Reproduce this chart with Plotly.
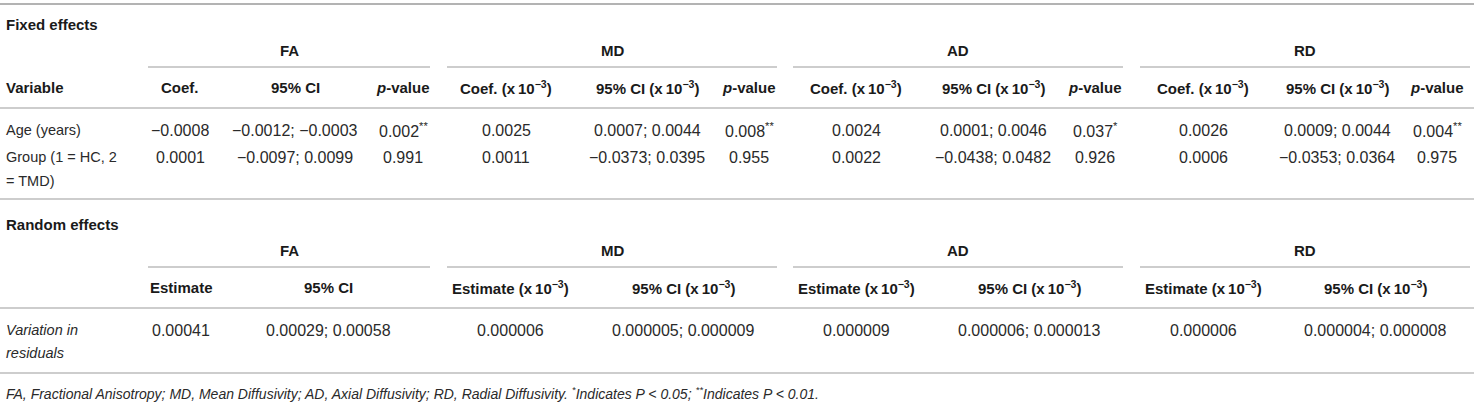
import plotly.graph_objects as go

# table content
groups = ["FA", "MD", "AD", "RD"]
fixed_heads = [
    ["Coef.", "95% CI", "<i>p</i>-value"],
    ["Coef. (x\u200910<sup>−3</sup>)", "95% CI (x\u200910<sup>−3</sup>)", "<i>p</i>-value"],
    ["Coef. (x\u200910<sup>−3</sup>)", "95% CI (x\u200910<sup>−3</sup>)", "<i>p</i>-value"],
    ["Coef. (x\u200910<sup>−3</sup>)", "95% CI (x\u200910<sup>−3</sup>)", "<i>p</i>-value"],
]
random_heads = [
    ["Estimate", "95% CI"],
    ["Estimate (x\u200910<sup>−3</sup>)", "95% CI (x\u200910<sup>−3</sup>)"],
    ["Estimate (x\u200910<sup>−3</sup>)", "95% CI (x\u200910<sup>−3</sup>)"],
    ["Estimate (x\u200910<sup>−3</sup>)", "95% CI (x\u200910<sup>−3</sup>)"],
]
fixed_vars = ["Age (years)", "Group (1 = HC, 2\n= TMD)"]
fa_fixed = [["−0.0008", "−0.0012; −0.0003", "0.002<sup>**</sup>"],
            ["0.0001", "−0.0097; 0.0099", "0.991"]]
md_fixed = [["0.0025", "0.0007; 0.0044", "0.008<sup>**</sup>"],
            ["0.0011", "−0.0373; 0.0395", "0.955"]]
ad_fixed = [["0.0024", "0.0001; 0.0046", "0.037<sup>*</sup>"],
            ["0.0022", "−0.0438; 0.0482", "0.926"]]
rd_fixed = [["0.0026", "0.0009; 0.0044", "0.004<sup>**</sup>"],
            ["0.0006", "−0.0353; 0.0364", "0.975"]]
random_vars = ["Variation in\nresiduals"]
random_est = ["0.00041", "0.000006", "0.000009", "0.000006"]
random_ci = ["0.00029; 0.00058", "0.000005; 0.000009", "0.000006; 0.000013", "0.000004; 0.000008"]
footnote = ("FA, Fractional Anisotropy; MD, Mean Diffusivity; AD, Axial Diffusivity; "
            "RD, Radial Diffusivity. <sup>*</sup>Indicates P &lt; 0.05; <sup>**</sup>Indicates P &lt; 0.01.")

W, H = 1474, 404
FONT = "Liberation Sans, Arial, sans-serif"
TXT = "#2a2a2a"
HEAD = "#1a1a1a"
LINE = "#bdbdbd"

# layout positions (px)
group_span = [(148, 430), (447, 777), (793, 1123), (1140, 1470)]
fixed_x = [[180, 295, 403], [506, 647, 749], [856, 993, 1095], [1203, 1337, 1437]]
random_x = [[181, 328], [510, 683], [856, 1029], [1203, 1375]]

fig = go.Figure()
anns = []
shapes = []


def txt(x, y, s, bold=False, italic=False, anchor="center", size=16, color=TXT):
    font = dict(family=FONT, size=size, color=color)
    if bold:
        font.update(size=15, color=HEAD, weight="bold")
    if italic:
        font["style"] = "italic"
    anns.append(dict(x=x, y=y, xref="x", yref="y", text=s, showarrow=False,
                     xanchor=anchor, yanchor="middle", font=font))


def hline(x0, x1, y, w=1.5, c=LINE):
    shapes.append(dict(type="line", xref="x", yref="y", x0=x0, x1=x1, y0=y, y1=y,
                       line=dict(color=c, width=w)))


hline(0, W, 4, 2, "#b3b3b3")

# fixed effects block
txt(4, 24, "Fixed effects", bold=True, anchor="left")
for g, (a, b) in zip(groups, group_span):
    txt((a + b) / 2, 50, g, bold=True)
    hline(a, b, 67)
txt(4, 87, "Variable", bold=True, anchor="left")
for heads, xs in zip(fixed_heads, fixed_x):
    for h, x in zip(heads, xs):
        txt(x, 87, h, bold=True)
hline(0, W, 108)

row_y = [130, 157]
for r, (lab, y) in enumerate(zip(fixed_vars, row_y)):
    for k, part in enumerate(lab.split("\n")):
        txt(4, y + 24 * k, part, anchor="left", size=14.5)
    for vals, xs in zip([fa_fixed, md_fixed, ad_fixed, rd_fixed], fixed_x):
        for v, x in zip(vals[r], xs):
            txt(x, y, v)
hline(0, W, 199)

# random effects block
txt(4, 224, "Random effects", bold=True, anchor="left")
for g, (a, b) in zip(groups, group_span):
    txt((a + b) / 2, 250, g, bold=True)
    hline(a, b, 267)
for heads, xs in zip(random_heads, random_x):
    for h, x in zip(heads, xs):
        txt(x, 287, h, bold=True)
hline(0, W, 308)

for k, part in enumerate(random_vars[0].split("\n")):
    txt(4, 330 + 23 * k, part, italic=True, anchor="left", size=14.5)
for est, ci, xs in zip(random_est, random_ci, random_x):
    txt(xs[0], 330, est)
    txt(xs[1], 330, ci)
hline(0, W, 373)

txt(4, 393, footnote, italic=True, anchor="left", size=14)

fig.update_layout(
    width=W, height=H,
    margin=dict(l=0, r=0, t=0, b=0),
    paper_bgcolor="white", plot_bgcolor="white",
    xaxis=dict(range=[0, W], visible=False, fixedrange=True),
    yaxis=dict(range=[H, 0], visible=False, fixedrange=True),
    annotations=anns, shapes=shapes,
    showlegend=False,
)
# drop the browser's default page margin so the table starts at the corner
fig.write_html("out.html", config={"displayModeBar": False},
               post_script="document.body.style.margin='0';")
